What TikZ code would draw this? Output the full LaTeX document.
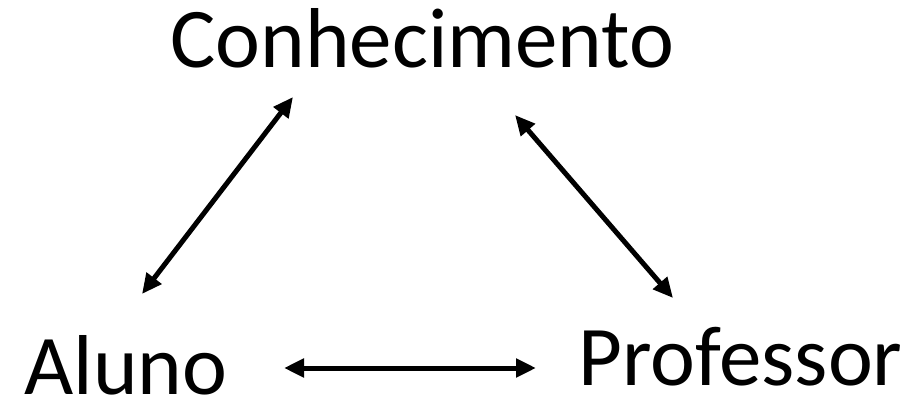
\documentclass[tikz,border=0pt]{standalone}
\usepackage{fontspec}
\setmainfont{Carlito}
\usepackage{tikz}
\usetikzlibrary{arrows.meta}

\begin{document}
\begin{tikzpicture}[x=1pt,y=1pt,<->,>={Triangle[length=20pt,width=18pt]},
                    line width=5pt]
\tikzstyle{every node}=[font=\fontsize{85}{100}\selectfont,inner sep=0pt,anchor=base west]
\useasboundingbox (0,0) rectangle (902,399);
\node (conhecimento) at (168,331) {Conhecimento};
\node (aluno) at (22,5) {Aluno};
\node (professor) at (576,14) {Professor};

\coordinate (ca) at (293,302);
\coordinate (ac) at (142,105);
\coordinate (cp) at (515,284);
\coordinate (pc) at (673,101);
\coordinate (ap) at (284,31);
\coordinate (pa) at (536,31);

\draw (ac) -- (ca);
\draw (cp) -- (pc);
\draw (ap) -- (pa);
\end{tikzpicture}
\end{document}
